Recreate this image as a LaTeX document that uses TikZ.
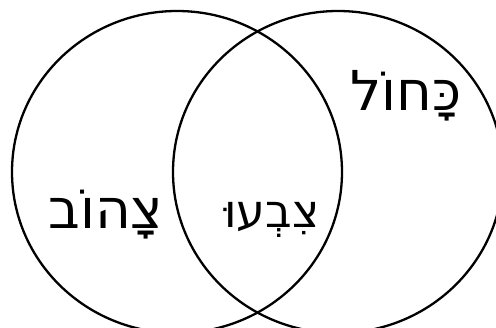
\documentclass[tikz,border=0pt]{standalone}
\usepackage{fontspec}
\newfontfamily\hebfont[Script=Hebrew]{DejaVu Sans}
\TeXXeTstate=1
\begin{document}
\begin{tikzpicture}[x=1pt, y=-1pt, line width=2.3pt,
  every node/.style={font=\hebfont, inner sep=0pt, anchor=base}]
  \useasboundingbox (0,0) rectangle (496,328);
  % the two sets
  \begin{scope}
    \clip (0,0) rectangle (496,328);
    \draw (177,172) ellipse [x radius=165, y radius=161];
    \draw (338,172) ellipse [x radius=165, y radius=161];
  \end{scope}
  % labels
  \node[font=\hebfont\fontsize{55}{60}\selectfont] (blue) at (406,111) {\beginR כָּחוֹל\endR};
  \node[font=\hebfont\fontsize{55}{60}\selectfont] (yellow) at (106,229) {\beginR צָהוֹב\endR};
  \node[font=\hebfont\fontsize{46}{50}\selectfont] (both) at (272,228) {\beginR צִבְעוּ\endR};
\end{tikzpicture}
\end{document}
